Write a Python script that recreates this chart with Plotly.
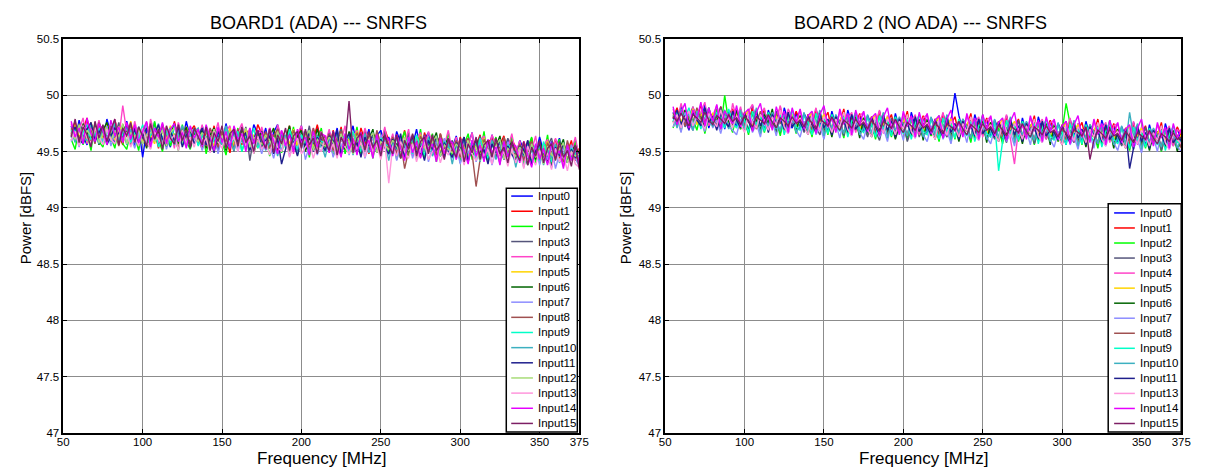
import plotly.graph_objects as go

# ---------------------------------------------------------------------------
# Frequency grid (MHz) shared by all inputs
# ---------------------------------------------------------------------------
freq_mhz = [55, 57.5, 60, 62.5, 65, 67.5, 70, 72.5, 75, 77.5, 80, 82.5, 85, 87.5, 90, 92.5,
            95, 97.5, 100, 102.5, 105, 107.5, 110, 112.5, 115, 117.5, 120, 122.5, 125, 127.5, 130, 132.5,
            135, 137.5, 140, 142.5, 145, 147.5, 150, 152.5, 155, 157.5, 160, 162.5, 165, 167.5, 170, 172.5,
            175, 177.5, 180, 182.5, 185, 187.5, 190, 192.5, 195, 197.5, 200, 202.5, 205, 207.5, 210, 212.5,
            215, 217.5, 220, 222.5, 225, 227.5, 230, 232.5, 235, 237.5, 240, 242.5, 245, 247.5, 250, 252.5,
            255, 257.5, 260, 262.5, 265, 267.5, 270, 272.5, 275, 277.5, 280, 282.5, 285, 287.5, 290, 292.5,
            295, 297.5, 300, 302.5, 305, 307.5, 310, 312.5, 315, 317.5, 320, 322.5, 325, 327.5, 330, 332.5,
            335, 337.5, 340, 342.5, 345, 347.5, 350, 352.5, 355, 357.5, 360, 362.5, 365, 367.5, 370, 372.5, 375]

x_ticks = [50, 100, 150, 200, 250, 300, 350, 375]
y_ticks = [47, 47.5, 48, 48.5, 49, 49.5, 50, 50.5]
y_tick_text = ["47", "47.5", "48", "48.5", "49", "49.5", "50", "50.5"]

# ---------------------------------------------------------------------------
# BOARD1 (ADA) -- SNRFS per input [dBFS]
# ---------------------------------------------------------------------------
b1_in0 = [49.73, 49.59, 49.78, 49.64, 49.56, 49.75, 49.62, 49.70, 49.57, 49.79, 49.66, 49.58, 49.74, 49.61, 49.77, 49.63,
          49.55, 49.72, 49.45, 49.69, 49.60, 49.76, 49.57, 49.71, 49.63, 49.54, 49.74, 49.66, 49.59, 49.77, 49.62, 49.69,
          49.56, 49.73, 49.61, 49.52, 49.70, 49.65, 49.57, 49.75, 49.60, 49.68, 49.53, 49.72, 49.63, 49.55, 49.74, 49.66,
          49.58, 49.71, 49.53, 49.67, 49.74, 49.56, 49.64, 49.50, 49.70, 49.61, 49.73, 49.55, 49.66, 49.59, 49.72, 49.62,
          49.52, 49.68, 49.57, 49.71, 49.49, 49.65, 49.60, 49.73, 49.54, 49.67, 49.58, 49.70, 49.51, 49.64, 49.69, 49.56,
          49.63, 49.50, 49.68, 49.58, 49.47, 49.66, 49.55, 49.70, 49.52, 49.61, 49.67, 49.49, 49.64, 49.57, 49.45, 49.62,
          49.53, 49.64, 49.47, 49.60, 49.56, 49.67, 49.44, 49.58, 49.62, 49.49, 49.65, 49.51, 49.59, 49.43, 49.61, 49.55,
          49.46, 49.60, 49.52, 49.41, 49.58, 49.48, 49.63, 49.50, 49.44, 49.59, 49.53, 49.62, 49.42, 49.56, 49.49, 49.60, 49.45]
b1_in1 = [49.66, 49.77, 49.60, 49.71, 49.80, 49.57, 49.68, 49.75, 49.62, 49.73, 49.59, 49.78, 49.65, 49.56, 49.74, 49.69,
          49.72, 49.55, 49.67, 49.76, 49.60, 49.70, 49.53, 49.74, 49.64, 49.58, 49.77, 49.61, 49.71, 49.55, 49.68, 49.73,
          49.63, 49.52, 49.69, 49.58, 49.73, 49.54, 49.67, 49.62, 49.49, 49.71, 49.60, 49.56, 49.70, 49.63, 49.58, 49.74,
          49.66, 49.54, 49.71, 49.59, 49.50, 49.68, 49.62, 49.73, 49.55, 49.65, 49.70, 49.52, 49.67, 49.60, 49.74, 49.57,
          49.64, 49.53, 49.69, 49.56, 49.72, 49.50, 49.62, 49.67, 49.55, 49.71, 49.59, 49.48, 49.66, 49.61, 49.54, 49.70,
          49.60, 49.48, 49.65, 49.54, 49.69, 49.51, 49.63, 49.57, 49.45, 49.67, 49.56, 49.62, 49.50, 49.66, 49.53, 49.59,
          49.57, 49.46, 49.63, 49.52, 49.42, 49.60, 49.55, 49.65, 49.48, 49.58, 49.62, 49.45, 49.56, 49.64, 49.50, 49.61,
          49.54, 49.43, 49.59, 49.50, 49.62, 49.46, 49.55, 49.40, 49.58, 49.52, 49.61, 49.44, 49.57, 49.49, 49.60, 49.42, 49.53]
b1_in2 = [49.61, 49.52, 49.72, 49.56, 49.67, 49.51, 49.76, 49.59, 49.54, 49.70, 49.63, 49.53, 49.74, 49.57, 49.52, 49.69,
          49.64, 49.51, 49.73, 49.58, 49.53, 49.77, 49.61, 49.50, 49.70, 49.55, 49.66, 49.51, 49.74, 49.59, 49.52, 49.69,
          49.57, 49.72, 49.48, 49.64, 49.53, 49.71, 49.59, 49.47, 49.68, 49.55, 49.71, 49.50, 49.62, 49.69, 49.48, 49.66,
          49.52, 49.67, 49.46, 49.60, 49.70, 49.49, 49.63, 49.55, 49.72, 49.47, 49.61, 49.68, 49.45, 49.64, 49.56, 49.71,
          49.50, 49.65, 49.46, 49.59, 49.70, 49.48, 49.62, 49.55, 49.72, 49.47, 49.60, 49.67, 49.44, 49.63, 49.53, 49.69,
          49.48, 49.64, 49.43, 49.58, 49.68, 49.46, 49.61, 49.52, 49.70, 49.44, 49.57, 49.66, 49.41, 49.62, 49.50, 49.67,
          49.45, 49.61, 49.40, 49.56, 49.66, 49.43, 49.59, 49.49, 49.68, 49.42, 49.55, 49.63, 49.39, 49.60, 49.47, 49.64,
          49.42, 49.58, 49.38, 49.53, 49.63, 49.40, 49.56, 49.46, 49.65, 49.39, 49.52, 49.61, 49.37, 49.57, 49.44, 49.60, 49.41]
b1_in3 = [49.70, 49.64, 49.75, 49.58, 49.71, 49.67, 49.60, 49.77, 49.65, 49.59, 49.73, 49.62, 49.76, 49.61, 49.68, 49.56,
          49.69, 49.63, 49.57, 49.72, 49.60, 49.66, 49.55, 49.71, 49.61, 49.67, 49.56, 49.74, 49.59, 49.65, 49.53, 49.70,
          49.58, 49.66, 49.54, 49.70, 49.61, 49.51, 49.68, 49.57, 49.64, 49.50, 49.67, 49.59, 49.72, 49.42, 49.63, 49.56,
          49.69, 49.58, 49.64, 49.52, 49.71, 49.60, 49.55, 49.67, 49.62, 49.50, 49.68, 49.57, 49.73, 49.54, 49.65, 49.59,
          49.63, 49.51, 49.67, 49.58, 49.70, 49.54, 49.61, 49.49, 49.66, 49.57, 49.69, 49.52, 49.64, 49.60, 49.55, 49.68,
          49.56, 49.64, 49.49, 49.62, 49.53, 49.67, 49.47, 49.60, 49.55, 49.65, 49.50, 49.63, 49.58, 49.46, 49.61, 49.54,
          49.60, 49.48, 49.57, 49.63, 49.45, 49.59, 49.52, 49.64, 49.47, 49.56, 49.61, 49.44, 49.58, 49.50, 49.62, 49.53,
          49.48, 49.57, 49.43, 49.60, 49.51, 49.46, 49.59, 49.41, 49.55, 49.62, 49.47, 49.53, 49.58, 49.42, 49.56, 49.50, 49.45]
b1_in4 = [49.75, 49.61, 49.69, 49.80, 49.57, 49.72, 49.64, 49.78, 49.59, 49.70, 49.66, 49.79, 49.62, 49.91, 49.67, 49.58,
          49.77, 49.63, 49.71, 49.54, 49.79, 49.65, 49.58, 49.75, 49.61, 49.69, 49.53, 49.76, 49.64, 49.72, 49.56, 49.70,
          49.60, 49.74, 49.53, 49.69, 49.63, 49.76, 49.56, 49.68, 49.73, 49.52, 49.67, 49.75, 49.59, 49.71, 49.62, 49.54,
          49.72, 49.59, 49.67, 49.50, 49.74, 49.63, 49.56, 49.70, 49.48, 49.66, 49.73, 49.55, 49.62, 49.71, 49.53, 49.68,
          49.57, 49.70, 49.51, 49.66, 49.59, 49.73, 49.49, 49.64, 49.69, 49.54, 49.71, 49.60, 49.47, 49.67, 49.56, 49.72,
          49.53, 49.66, 49.48, 49.63, 49.57, 49.70, 49.46, 49.61, 49.67, 49.51, 49.68, 49.58, 49.44, 49.64, 49.55, 49.69,
          49.50, 49.63, 49.45, 49.60, 49.54, 49.67, 49.43, 49.58, 49.64, 49.48, 49.65, 49.55, 49.41, 49.61, 49.52, 49.66,
          49.47, 49.60, 49.42, 49.57, 49.51, 49.64, 49.40, 49.55, 49.61, 49.45, 49.62, 49.52, 49.38, 49.58, 49.49, 49.63, 49.44]
b1_in5 = [49.68, 49.74, 49.63, 49.70, 49.59, 49.76, 49.66, 49.71, 49.62, 49.75, 49.67, 49.60, 49.72, 49.69, 49.64, 49.77,
          49.63, 49.71, 49.58, 49.74, 49.65, 49.57, 49.72, 49.67, 49.60, 49.73, 49.62, 49.69, 49.56, 49.72, 49.64, 49.61,
          49.67, 49.57, 49.71, 49.62, 49.55, 49.69, 49.64, 49.58, 49.71, 49.54, 49.66, 49.61, 49.70, 49.57, 49.65, 49.53,
          49.64, 49.56, 49.69, 49.60, 49.53, 49.67, 49.62, 49.57, 49.70, 49.55, 49.65, 49.59, 49.68, 49.54, 49.63, 49.58,
          49.62, 49.54, 49.67, 49.58, 49.51, 49.65, 49.60, 49.55, 49.68, 49.53, 49.63, 49.57, 49.66, 49.52, 49.61, 49.56,
          49.59, 49.51, 49.64, 49.55, 49.48, 49.62, 49.57, 49.52, 49.65, 49.50, 49.60, 49.54, 49.63, 49.49, 49.58, 49.53,
          49.56, 49.48, 49.61, 49.52, 49.45, 49.59, 49.54, 49.49, 49.62, 49.47, 49.57, 49.51, 49.60, 49.46, 49.55, 49.50,
          49.53, 49.45, 49.58, 49.49, 49.42, 49.56, 49.51, 49.46, 49.59, 49.44, 49.54, 49.48, 49.57, 49.43, 49.52, 49.47, 49.50]
b1_in6 = [49.64, 49.71, 49.58, 49.75, 49.67, 49.61, 49.73, 49.56, 49.69, 49.76, 49.62, 49.68, 49.59, 49.74, 49.66, 49.60,
          49.71, 49.58, 49.66, 49.53, 49.73, 49.62, 49.68, 49.56, 49.70, 49.64, 49.75, 49.57, 49.63, 49.72, 49.54, 49.67,
          49.62, 49.69, 49.53, 49.65, 49.71, 49.57, 49.63, 49.51, 49.67, 49.60, 49.55, 49.70, 49.58, 49.64, 49.49, 49.61,
          49.68, 49.55, 49.63, 49.71, 49.52, 49.66, 49.59, 49.73, 49.54, 49.64, 49.69, 49.50, 49.62, 49.57, 49.70, 49.56,
          49.55, 49.65, 49.59, 49.47, 49.63, 49.52, 49.68, 49.58, 49.49, 49.66, 49.54, 49.61, 49.70, 49.50, 49.60, 49.64,
          49.52, 49.62, 49.56, 49.44, 49.60, 49.49, 49.65, 49.55, 49.46, 49.63, 49.51, 49.58, 49.67, 49.47, 49.57, 49.61,
          49.49, 49.59, 49.53, 49.41, 49.57, 49.46, 49.62, 49.52, 49.43, 49.60, 49.48, 49.55, 49.64, 49.44, 49.54, 49.58,
          49.46, 49.56, 49.50, 49.38, 49.54, 49.43, 49.59, 49.49, 49.40, 49.57, 49.45, 49.52, 49.61, 49.41, 49.51, 49.55, 49.47]
b1_in7 = [49.59, 49.67, 49.54, 49.72, 49.63, 49.56, 49.70, 49.65, 49.58, 49.73, 49.55, 49.66, 49.61, 49.71, 49.57, 49.64,
          49.53, 49.68, 49.61, 49.75, 49.56, 49.64, 49.59, 49.71, 49.52, 49.65, 49.58, 49.69, 49.63, 49.54, 49.72, 49.60,
          49.66, 49.51, 49.62, 49.56, 49.70, 49.48, 49.64, 49.59, 49.53, 49.67, 49.50, 49.63, 49.57, 49.65, 49.52, 49.60,
          49.48, 49.62, 49.56, 49.44, 49.59, 49.51, 49.64, 49.46, 49.57, 49.53, 49.65, 49.43, 49.55, 49.61, 49.47, 49.58,
          49.50, 49.63, 49.45, 49.58, 49.54, 49.66, 49.47, 49.60, 49.52, 49.64, 49.44, 49.57, 49.62, 49.49, 49.65, 49.53,
          49.47, 49.60, 49.42, 49.55, 49.51, 49.63, 49.44, 49.57, 49.49, 49.61, 49.41, 49.54, 49.59, 49.46, 49.62, 49.50,
          49.44, 49.57, 49.39, 49.52, 49.48, 49.60, 49.41, 49.54, 49.46, 49.58, 49.38, 49.51, 49.56, 49.43, 49.59, 49.47,
          49.41, 49.54, 49.36, 49.49, 49.45, 49.57, 49.38, 49.51, 49.43, 49.55, 49.35, 49.48, 49.53, 49.40, 49.56, 49.44, 49.37]
b1_in8 = [49.71, 49.65, 49.59, 49.74, 49.62, 49.69, 49.57, 49.76, 49.64, 49.60, 49.72, 49.67, 49.55, 49.70, 49.63, 49.73,
          49.66, 49.59, 49.72, 49.63, 49.55, 49.70, 49.61, 49.74, 49.58, 49.67, 49.62, 49.53, 49.71, 49.64, 49.57, 49.69,
          49.60, 49.66, 49.55, 49.71, 49.62, 49.54, 49.68, 49.59, 49.65, 49.52, 49.70, 49.61, 49.56, 49.67, 49.58, 49.63,
          49.57, 49.68, 49.53, 49.64, 49.70, 49.56, 49.62, 49.51, 49.69, 49.60, 49.55, 49.66, 49.52, 49.71, 49.58, 49.63,
          49.55, 49.66, 49.51, 49.62, 49.68, 49.54, 49.60, 49.49, 49.67, 49.58, 49.53, 49.64, 49.50, 49.69, 49.56, 49.61,
          49.52, 49.63, 49.48, 49.59, 49.35, 49.51, 49.57, 49.46, 49.64, 49.55, 49.50, 49.61, 49.47, 49.66, 49.53, 49.58,
          49.49, 49.60, 49.45, 49.56, 49.62, 49.48, 49.19, 49.43, 49.61, 49.52, 49.47, 49.58, 49.44, 49.63, 49.50, 49.55,
          49.46, 49.57, 49.42, 49.53, 49.59, 49.45, 49.51, 49.40, 49.58, 49.49, 49.44, 49.55, 49.41, 49.60, 49.47, 49.52, 49.43]
b1_in9 = [49.62, 49.70, 49.56, 49.67, 49.74, 49.60, 49.65, 49.71, 49.57, 49.68, 49.63, 49.75, 49.59, 49.66, 49.72, 49.58,
          49.67, 49.61, 49.74, 49.56, 49.65, 49.71, 49.54, 49.63, 49.69, 49.58, 49.73, 49.62, 49.56, 49.68, 49.64, 49.71,
          49.55, 49.64, 49.70, 49.52, 49.61, 49.67, 49.57, 49.72, 49.54, 49.62, 49.68, 49.50, 49.64, 49.58, 49.71, 49.53,
          49.61, 49.56, 49.68, 49.50, 49.63, 49.66, 49.53, 49.70, 49.58, 49.52, 49.65, 49.57, 49.69, 49.51, 49.64, 49.59,
          49.58, 49.53, 49.66, 49.48, 49.61, 49.64, 49.51, 49.68, 49.56, 49.50, 49.63, 49.55, 49.67, 49.49, 49.62, 49.57,
          49.55, 49.50, 49.63, 49.45, 49.58, 49.61, 49.48, 49.65, 49.53, 49.47, 49.60, 49.52, 49.64, 49.46, 49.59, 49.54,
          49.52, 49.47, 49.60, 49.42, 49.55, 49.58, 49.45, 49.62, 49.50, 49.44, 49.57, 49.49, 49.61, 49.43, 49.56, 49.51,
          49.49, 49.44, 49.57, 49.39, 49.52, 49.55, 49.42, 49.59, 49.47, 49.41, 49.54, 49.46, 49.58, 49.40, 49.53, 49.48, 49.45]
b1_in10 = [49.69, 49.58, 49.73, 49.63, 49.60, 49.75, 49.66, 49.57, 49.71, 49.64, 49.59, 49.74, 49.62, 49.68, 49.56, 49.70,
           49.59, 49.72, 49.64, 49.57, 49.70, 49.61, 49.75, 49.55, 49.66, 49.71, 49.56, 49.64, 49.73, 49.58, 49.62, 49.68,
           49.71, 49.58, 49.64, 49.53, 49.69, 49.61, 49.56, 49.73, 49.62, 49.51, 49.66, 49.59, 49.54, 49.70, 49.60, 49.56,
           49.64, 49.51, 49.58, 49.62, 49.46, 49.60, 49.65, 49.53, 49.59, 49.48, 49.62, 49.56, 49.51, 49.63, 49.49, 49.57,
           49.45, 49.62, 49.55, 49.67, 49.50, 49.58, 49.64, 49.47, 49.61, 49.53, 49.66, 49.49, 49.57, 49.63, 49.52, 49.60,
           49.42, 49.59, 49.52, 49.64, 49.47, 49.55, 49.61, 49.44, 49.58, 49.50, 49.63, 49.46, 49.54, 49.60, 49.49, 49.57,
           49.39, 49.56, 49.49, 49.61, 49.44, 49.52, 49.58, 49.41, 49.55, 49.47, 49.60, 49.43, 49.51, 49.57, 49.46, 49.54,
           49.36, 49.53, 49.46, 49.58, 49.41, 49.49, 49.55, 49.38, 49.52, 49.44, 49.57, 49.40, 49.48, 49.54, 49.43, 49.51, 49.39]
b1_in11 = [49.65, 49.72, 49.61, 49.57, 49.70, 49.76, 49.59, 49.67, 49.73, 49.56, 49.64, 49.71, 49.66, 49.60, 49.75, 49.62,
           49.70, 49.56, 49.63, 49.71, 49.59, 49.67, 49.74, 49.61, 49.55, 49.68, 49.60, 49.72, 49.54, 49.65, 49.69, 49.57,
           49.64, 49.71, 49.56, 49.62, 49.49, 49.68, 49.60, 49.65, 49.53, 49.70, 49.58, 49.63, 49.67, 49.51, 49.62, 49.69,
           49.53, 49.60, 49.64, 49.48, 49.62, 49.39, 49.51, 49.65, 49.58, 49.46, 49.61, 49.55, 49.68, 49.50, 49.63, 49.57,
           49.51, 49.64, 49.56, 49.69, 49.47, 49.60, 49.66, 49.52, 49.58, 49.45, 49.63, 49.55, 49.67, 49.49, 49.61, 49.54,
           49.48, 49.61, 49.53, 49.66, 49.44, 49.57, 49.63, 49.49, 49.55, 49.42, 49.60, 49.52, 49.64, 49.46, 49.58, 49.51,
           49.45, 49.58, 49.50, 49.63, 49.41, 49.54, 49.60, 49.46, 49.52, 49.39, 49.57, 49.49, 49.61, 49.43, 49.55, 49.48,
           49.42, 49.55, 49.47, 49.60, 49.38, 49.51, 49.57, 49.43, 49.49, 49.36, 49.54, 49.46, 49.58, 49.40, 49.52, 49.45, 49.50]
b1_in12 = [49.67, 49.61, 49.74, 49.59, 49.69, 49.64, 49.72, 49.58, 49.66, 49.71, 49.60, 49.68, 49.63, 49.75, 49.57, 49.67,
           49.62, 49.70, 49.57, 49.65, 49.72, 49.59, 49.64, 49.69, 49.55, 49.67, 49.71, 49.60, 49.65, 49.56, 49.70, 49.63,
           49.59, 49.67, 49.62, 49.55, 49.70, 49.58, 49.64, 49.53, 49.68, 49.61, 49.56, 49.65, 49.71, 49.54, 49.63, 49.59,
           49.57, 49.65, 49.60, 49.52, 49.68, 49.56, 49.62, 49.50, 49.66, 49.59, 49.54, 49.63, 49.69, 49.51, 49.61, 49.57,
           49.55, 49.63, 49.58, 49.50, 49.66, 49.54, 49.60, 49.48, 49.64, 49.57, 49.52, 49.61, 49.67, 49.49, 49.59, 49.55,
           49.52, 49.60, 49.55, 49.47, 49.63, 49.51, 49.57, 49.45, 49.61, 49.54, 49.49, 49.58, 49.64, 49.46, 49.56, 49.52,
           49.49, 49.57, 49.52, 49.44, 49.60, 49.48, 49.54, 49.42, 49.58, 49.51, 49.46, 49.55, 49.61, 49.43, 49.53, 49.49,
           49.46, 49.54, 49.49, 49.41, 49.57, 49.45, 49.51, 49.39, 49.55, 49.48, 49.43, 49.52, 49.58, 49.40, 49.50, 49.46, 49.48]
b1_in13 = [49.60, 49.68, 49.55, 49.73, 49.62, 49.58, 49.71, 49.64, 49.56, 49.70, 49.61, 49.57, 49.72, 49.59, 49.67, 49.54,
           49.64, 49.55, 49.71, 49.59, 49.52, 49.68, 49.61, 49.56, 49.73, 49.60, 49.65, 49.51, 49.69, 49.58, 49.63, 49.54,
           49.67, 49.56, 49.62, 49.49, 49.68, 49.59, 49.53, 49.65, 49.57, 49.63, 49.50, 49.66, 49.55, 49.61, 49.48, 49.64,
           49.52, 49.59, 49.47, 49.63, 49.54, 49.50, 49.61, 49.45, 49.57, 49.62, 49.48, 49.54, 49.59, 49.44, 49.56, 49.50,
           49.62, 49.49, 49.57, 49.44, 49.63, 49.54, 49.48, 49.60, 49.52, 49.58, 49.45, 49.61, 49.50, 49.56, 49.43, 49.59,
           49.22, 49.55, 49.46, 49.59, 49.50, 49.44, 49.57, 49.41, 49.53, 49.58, 49.43, 49.50, 49.55, 49.40, 49.52, 49.47,
           49.56, 49.43, 49.51, 49.38, 49.57, 49.48, 49.42, 49.54, 49.46, 49.52, 49.39, 49.55, 49.44, 49.50, 49.37, 49.53,
           49.40, 49.52, 49.35, 49.55, 49.45, 49.38, 49.51, 49.43, 49.49, 49.34, 49.53, 49.41, 49.47, 49.33, 49.50, 49.39, 49.36]
b1_in14 = [49.77, 49.63, 49.71, 49.57, 49.80, 49.66, 49.59, 49.75, 49.69, 49.56, 49.78, 49.64, 49.72, 49.58, 49.76, 49.61,
           49.74, 49.58, 49.68, 49.77, 49.54, 49.71, 49.63, 49.76, 49.57, 49.70, 49.75, 49.59, 49.67, 49.53, 49.73, 49.62,
           49.70, 49.55, 49.74, 49.62, 49.51, 49.72, 49.58, 49.68, 49.53, 49.73, 49.61, 49.66, 49.50, 49.71, 49.57, 49.69,
           49.67, 49.52, 49.71, 49.59, 49.48, 49.69, 49.55, 49.65, 49.50, 49.70, 49.58, 49.63, 49.47, 49.68, 49.54, 49.66,
           49.64, 49.49, 49.68, 49.56, 49.45, 49.66, 49.52, 49.62, 49.47, 49.67, 49.55, 49.60, 49.44, 49.65, 49.51, 49.63,
           49.61, 49.46, 49.65, 49.53, 49.42, 49.63, 49.49, 49.59, 49.44, 49.64, 49.52, 49.57, 49.41, 49.62, 49.48, 49.60,
           49.58, 49.43, 49.62, 49.50, 49.39, 49.60, 49.46, 49.56, 49.41, 49.61, 49.49, 49.54, 49.38, 49.59, 49.45, 49.57,
           49.55, 49.40, 49.59, 49.47, 49.36, 49.57, 49.43, 49.53, 49.38, 49.58, 49.46, 49.51, 49.35, 49.56, 49.42, 49.54, 49.40]
b1_in15 = [49.63, 49.79, 49.58, 49.72, 49.65, 49.54, 49.77, 49.62, 49.74, 49.59, 49.69, 49.79, 49.56, 49.71, 49.64, 49.76,
           49.58, 49.72, 49.64, 49.55, 49.75, 49.61, 49.70, 49.52, 49.73, 49.62, 49.57, 49.74, 49.60, 49.69, 49.54, 49.71,
           49.63, 49.56, 49.72, 49.51, 49.67, 49.59, 49.73, 49.53, 49.66, 49.70, 49.55, 49.72, 49.58, 49.64, 49.50, 49.69,
           49.60, 49.53, 49.70, 49.49, 49.65, 49.57, 49.71, 49.51, 49.64, 49.68, 49.53, 49.70, 49.56, 49.62, 49.48, 49.67,
           49.58, 49.51, 49.68, 49.47, 49.63, 49.55, 49.95, 49.49, 49.62, 49.66, 49.51, 49.68, 49.54, 49.60, 49.46, 49.65,
           49.55, 49.48, 49.65, 49.44, 49.60, 49.52, 49.66, 49.46, 49.59, 49.63, 49.48, 49.65, 49.51, 49.57, 49.43, 49.62,
           49.52, 49.45, 49.62, 49.41, 49.57, 49.49, 49.63, 49.43, 49.56, 49.60, 49.45, 49.62, 49.48, 49.54, 49.40, 49.59,
           49.49, 49.42, 49.59, 49.38, 49.54, 49.46, 49.60, 49.40, 49.53, 49.57, 49.42, 49.59, 49.45, 49.51, 49.37, 49.56, 49.34]

# ---------------------------------------------------------------------------
# BOARD 2 (NO ADA) -- SNRFS per input [dBFS]  (Input12 not present)
# ---------------------------------------------------------------------------
b2_in0 = [49.85, 49.73, 49.91, 49.78, 49.69, 49.89, 49.80, 49.74, 49.92, 49.71, 49.84, 49.77, 49.90, 49.70, 49.86, 49.79,
          49.72, 49.88, 49.76, 49.67, 49.91, 49.75, 49.83, 49.69, 49.87, 49.74, 49.80, 49.66, 49.89, 49.77, 49.71, 49.85,
          49.70, 49.84, 49.76, 49.65, 49.88, 49.73, 49.81, 49.67, 49.86, 49.72, 49.78, 49.64, 49.87, 49.75, 49.69, 49.83,
          49.68, 49.82, 49.74, 49.63, 49.86, 49.71, 49.79, 49.65, 49.84, 49.70, 49.76, 49.62, 49.85, 49.73, 49.67, 49.81,
          49.66, 49.80, 49.72, 49.61, 49.84, 49.69, 49.77, 50.02, 49.82, 49.68, 49.74, 49.60, 49.83, 49.71, 49.65, 49.79,
          49.64, 49.78, 49.70, 49.59, 49.82, 49.67, 49.75, 49.61, 49.80, 49.66, 49.72, 49.58, 49.81, 49.69, 49.63, 49.77,
          49.61, 49.75, 49.67, 49.56, 49.79, 49.64, 49.72, 49.58, 49.77, 49.63, 49.69, 49.55, 49.78, 49.66, 49.60, 49.74,
          49.58, 49.72, 49.64, 49.53, 49.76, 49.61, 49.69, 49.55, 49.74, 49.60, 49.66, 49.52, 49.75, 49.63, 49.57, 49.71, 49.59]
b2_in1 = [49.80, 49.89, 49.75, 49.84, 49.71, 49.87, 49.78, 49.92, 49.74, 49.85, 49.81, 49.72, 49.90, 49.76, 49.83, 49.88,
          49.79, 49.70, 49.85, 49.76, 49.89, 49.73, 49.80, 49.87, 49.71, 49.84, 49.77, 49.90, 49.69, 49.82, 49.75, 49.86,
          49.77, 49.68, 49.83, 49.74, 49.87, 49.71, 49.78, 49.85, 49.69, 49.82, 49.75, 49.88, 49.67, 49.80, 49.73, 49.84,
          49.75, 49.66, 49.81, 49.72, 49.85, 49.69, 49.76, 49.83, 49.67, 49.80, 49.73, 49.86, 49.65, 49.78, 49.71, 49.82,
          49.73, 49.64, 49.79, 49.70, 49.83, 49.67, 49.74, 49.81, 49.65, 49.78, 49.71, 49.84, 49.63, 49.76, 49.69, 49.80,
          49.71, 49.62, 49.77, 49.68, 49.81, 49.65, 49.72, 49.79, 49.63, 49.76, 49.69, 49.82, 49.61, 49.74, 49.67, 49.78,
          49.68, 49.59, 49.74, 49.65, 49.78, 49.62, 49.69, 49.76, 49.60, 49.73, 49.66, 49.79, 49.58, 49.71, 49.64, 49.75,
          49.65, 49.56, 49.71, 49.62, 49.75, 49.59, 49.66, 49.73, 49.57, 49.70, 49.63, 49.76, 49.55, 49.68, 49.61, 49.72, 49.64]
b2_in2 = [49.71, 49.83, 49.68, 49.87, 49.74, 49.79, 49.69, 49.85, 49.66, 49.82, 49.72, 49.88, 49.70, 50.00, 49.76, 49.67,
          49.84, 49.70, 49.79, 49.65, 49.86, 49.73, 49.81, 49.67, 49.85, 49.71, 49.78, 49.64, 49.83, 49.69, 49.80, 49.66,
          49.82, 49.68, 49.77, 49.63, 49.84, 49.71, 49.79, 49.65, 49.83, 49.69, 49.76, 49.62, 49.81, 49.67, 49.78, 49.64,
          49.80, 49.66, 49.75, 49.61, 49.82, 49.69, 49.77, 49.63, 49.81, 49.67, 49.74, 49.60, 49.79, 49.65, 49.76, 49.62,
          49.78, 49.64, 49.73, 49.59, 49.80, 49.67, 49.75, 49.61, 49.79, 49.65, 49.72, 49.58, 49.77, 49.63, 49.74, 49.60,
          49.76, 49.62, 49.71, 49.57, 49.78, 49.65, 49.73, 49.59, 49.77, 49.63, 49.70, 49.56, 49.75, 49.61, 49.72, 49.58,
          49.73, 49.59, 49.68, 49.93, 49.75, 49.62, 49.70, 49.56, 49.74, 49.60, 49.67, 49.53, 49.72, 49.58, 49.69, 49.55,
          49.70, 49.56, 49.65, 49.51, 49.72, 49.59, 49.67, 49.53, 49.71, 49.57, 49.64, 49.50, 49.69, 49.55, 49.66, 49.52, 49.61]
b2_in3 = [49.83, 49.77, 49.88, 49.72, 49.81, 49.90, 49.75, 49.84, 49.70, 49.86, 49.79, 49.73, 49.89, 49.78, 49.71, 49.85,
          49.76, 49.83, 49.69, 49.87, 49.74, 49.80, 49.68, 49.85, 49.78, 49.72, 49.86, 49.75, 49.82, 49.67, 49.81, 49.73,
          49.80, 49.67, 49.76, 49.84, 49.71, 49.65, 49.82, 49.74, 49.69, 49.81, 49.75, 49.64, 49.79, 49.72, 49.85, 49.68,
          49.73, 49.63, 49.77, 49.69, 49.60, 49.75, 49.67, 49.80, 49.62, 49.71, 49.76, 49.59, 49.70, 49.78, 49.63, 49.72,
          49.79, 49.66, 49.74, 49.82, 49.69, 49.63, 49.80, 49.72, 49.67, 49.79, 49.73, 49.62, 49.77, 49.70, 49.83, 49.66,
          49.71, 49.61, 49.75, 49.67, 49.58, 49.73, 49.65, 49.78, 49.60, 49.69, 49.74, 49.57, 49.68, 49.76, 49.61, 49.70,
          49.74, 49.61, 49.69, 49.77, 49.64, 49.58, 49.75, 49.67, 49.62, 49.74, 49.68, 49.57, 49.72, 49.65, 49.78, 49.61,
          49.65, 49.55, 49.69, 49.61, 49.52, 49.67, 49.59, 49.72, 49.54, 49.63, 49.68, 49.51, 49.62, 49.70, 49.55, 49.64, 49.58]
b2_in4 = [49.88, 49.75, 49.93, 49.80, 49.70, 49.90, 49.77, 49.85, 49.94, 49.73, 49.82, 49.91, 49.76, 49.87, 49.71, 49.93,
          49.79, 49.90, 49.71, 49.86, 49.92, 49.74, 49.83, 49.89, 49.70, 49.85, 49.77, 49.91, 49.73, 49.88, 49.80, 49.75,
          49.87, 49.71, 49.82, 49.77, 49.89, 49.68, 49.84, 49.76, 49.81, 49.70, 49.86, 49.74, 49.79, 49.85, 49.67, 49.82,
          49.85, 49.69, 49.80, 49.75, 49.87, 49.66, 49.82, 49.74, 49.79, 49.68, 49.84, 49.72, 49.77, 49.83, 49.65, 49.80,
          49.83, 49.67, 49.78, 49.73, 49.85, 49.64, 49.80, 49.72, 49.77, 49.66, 49.82, 49.70, 49.75, 49.81, 49.63, 49.78,
          49.81, 49.65, 49.76, 49.71, 49.83, 49.62, 49.39, 49.70, 49.75, 49.64, 49.80, 49.68, 49.73, 49.79, 49.61, 49.76,
          49.78, 49.62, 49.73, 49.68, 49.80, 49.59, 49.75, 49.67, 49.72, 49.61, 49.77, 49.65, 49.70, 49.76, 49.58, 49.73,
          49.75, 49.59, 49.70, 49.65, 49.77, 49.56, 49.72, 49.64, 49.69, 49.58, 49.74, 49.62, 49.67, 49.73, 49.55, 49.70, 49.66]
b2_in5 = [49.81, 49.86, 49.76, 49.83, 49.79, 49.88, 49.74, 49.82, 49.87, 49.77, 49.84, 49.80, 49.75, 49.85, 49.81, 49.78,
          49.84, 49.75, 49.81, 49.87, 49.73, 49.79, 49.85, 49.76, 49.82, 49.71, 49.80, 49.86, 49.74, 49.78, 49.83, 49.72,
          49.82, 49.73, 49.79, 49.85, 49.71, 49.77, 49.83, 49.74, 49.80, 49.69, 49.78, 49.84, 49.72, 49.76, 49.81, 49.70,
          49.80, 49.71, 49.77, 49.83, 49.69, 49.75, 49.81, 49.72, 49.78, 49.67, 49.76, 49.82, 49.70, 49.74, 49.79, 49.68,
          49.78, 49.69, 49.75, 49.81, 49.67, 49.73, 49.79, 49.70, 49.76, 49.65, 49.74, 49.80, 49.68, 49.72, 49.77, 49.66,
          49.76, 49.67, 49.73, 49.79, 49.65, 49.71, 49.77, 49.68, 49.74, 49.63, 49.72, 49.78, 49.66, 49.70, 49.75, 49.64,
          49.73, 49.64, 49.70, 49.76, 49.62, 49.68, 49.74, 49.65, 49.71, 49.60, 49.69, 49.75, 49.63, 49.67, 49.72, 49.61,
          49.70, 49.61, 49.67, 49.73, 49.59, 49.65, 49.71, 49.62, 49.68, 49.57, 49.66, 49.72, 49.60, 49.64, 49.69, 49.58, 49.65]
b2_in6 = [49.76, 49.84, 49.71, 49.87, 49.78, 49.69, 49.85, 49.80, 49.73, 49.89, 49.75, 49.82, 49.70, 49.86, 49.77, 49.74,
          49.87, 49.72, 49.81, 49.68, 49.85, 49.77, 49.70, 49.83, 49.75, 49.88, 49.67, 49.80, 49.84, 49.71, 49.78, 49.69,
          49.82, 49.74, 49.65, 49.80, 49.71, 49.86, 49.68, 49.77, 49.63, 49.79, 49.72, 49.84, 49.66, 49.75, 49.81, 49.62,
          49.80, 49.72, 49.63, 49.78, 49.69, 49.84, 49.66, 49.75, 49.61, 49.77, 49.70, 49.82, 49.64, 49.73, 49.79, 49.60,
          49.78, 49.70, 49.61, 49.76, 49.67, 49.82, 49.64, 49.73, 49.59, 49.75, 49.68, 49.80, 49.62, 49.71, 49.77, 49.58,
          49.76, 49.68, 49.59, 49.74, 49.65, 49.80, 49.62, 49.71, 49.57, 49.73, 49.66, 49.78, 49.60, 49.69, 49.75, 49.56,
          49.73, 49.65, 49.56, 49.71, 49.62, 49.77, 49.59, 49.68, 49.54, 49.70, 49.63, 49.75, 49.57, 49.66, 49.72, 49.53,
          49.70, 49.62, 49.53, 49.68, 49.59, 49.74, 49.56, 49.65, 49.51, 49.67, 49.60, 49.72, 49.54, 49.63, 49.69, 49.50, 49.62]
b2_in7 = [49.72, 49.80, 49.67, 49.85, 49.74, 49.69, 49.82, 49.76, 49.68, 49.84, 49.71, 49.78, 49.66, 49.81, 49.73, 49.69,
          49.65, 49.79, 49.71, 49.84, 49.67, 49.75, 49.63, 49.81, 49.70, 49.77, 49.64, 49.82, 49.72, 49.66, 49.78, 49.69,
          49.63, 49.77, 49.69, 49.82, 49.65, 49.73, 49.61, 49.79, 49.68, 49.75, 49.62, 49.80, 49.70, 49.64, 49.76, 49.67,
          49.61, 49.75, 49.67, 49.80, 49.63, 49.71, 49.59, 49.77, 49.66, 49.73, 49.60, 49.78, 49.68, 49.62, 49.74, 49.65,
          49.59, 49.73, 49.65, 49.78, 49.61, 49.69, 49.57, 49.75, 49.64, 49.71, 49.58, 49.76, 49.66, 49.60, 49.72, 49.63,
          49.57, 49.71, 49.63, 49.76, 49.59, 49.67, 49.55, 49.73, 49.62, 49.69, 49.56, 49.74, 49.64, 49.58, 49.70, 49.61,
          49.54, 49.68, 49.60, 49.73, 49.56, 49.64, 49.52, 49.70, 49.59, 49.66, 49.53, 49.71, 49.61, 49.55, 49.67, 49.58,
          49.51, 49.65, 49.57, 49.70, 49.53, 49.61, 49.49, 49.67, 49.56, 49.63, 49.50, 49.68, 49.58, 49.52, 49.64, 49.55, 49.50]
b2_in8 = [49.84, 49.78, 49.87, 49.73, 49.82, 49.76, 49.89, 49.79, 49.75, 49.86, 49.80, 49.71, 49.85, 49.78, 49.83, 49.74,
          49.80, 49.85, 49.73, 49.82, 49.77, 49.70, 49.86, 49.75, 49.81, 49.72, 49.84, 49.76, 49.69, 49.83, 49.78, 49.74,
          49.79, 49.72, 49.83, 49.69, 49.77, 49.81, 49.67, 49.75, 49.80, 49.71, 49.78, 49.66, 49.82, 49.73, 49.70, 49.77,
          49.77, 49.70, 49.81, 49.67, 49.75, 49.79, 49.65, 49.73, 49.78, 49.69, 49.76, 49.64, 49.80, 49.71, 49.68, 49.75,
          49.75, 49.68, 49.79, 49.65, 49.73, 49.77, 49.63, 49.71, 49.76, 49.67, 49.74, 49.62, 49.78, 49.69, 49.66, 49.73,
          49.73, 49.66, 49.77, 49.63, 49.71, 49.75, 49.61, 49.69, 49.74, 49.65, 49.72, 49.60, 49.76, 49.67, 49.64, 49.71,
          49.70, 49.63, 49.74, 49.60, 49.68, 49.72, 49.58, 49.66, 49.71, 49.62, 49.69, 49.57, 49.73, 49.64, 49.61, 49.68,
          49.67, 49.60, 49.71, 49.57, 49.65, 49.69, 49.55, 49.63, 49.68, 49.59, 49.66, 49.54, 49.70, 49.61, 49.58, 49.65, 49.53]
b2_in9 = [49.77, 49.86, 49.72, 49.81, 49.89, 49.74, 49.83, 49.70, 49.87, 49.78, 49.73, 49.85, 49.80, 49.71, 49.88, 49.76,
          49.71, 49.84, 49.78, 49.67, 49.86, 49.74, 49.81, 49.68, 49.85, 49.76, 49.70, 49.83, 49.65, 49.79, 49.87, 49.72,
          49.69, 49.82, 49.76, 49.65, 49.84, 49.72, 49.79, 49.66, 49.83, 49.74, 49.68, 49.81, 49.63, 49.77, 49.85, 49.70,
          49.67, 49.80, 49.74, 49.63, 49.82, 49.70, 49.77, 49.64, 49.81, 49.72, 49.66, 49.79, 49.61, 49.75, 49.83, 49.68,
          49.65, 49.78, 49.72, 49.61, 49.80, 49.68, 49.75, 49.62, 49.79, 49.70, 49.64, 49.77, 49.59, 49.73, 49.81, 49.66,
          49.63, 49.76, 49.33, 49.59, 49.78, 49.66, 49.73, 49.60, 49.77, 49.68, 49.62, 49.75, 49.57, 49.71, 49.79, 49.64,
          49.60, 49.73, 49.67, 49.56, 49.75, 49.63, 49.70, 49.57, 49.74, 49.65, 49.59, 49.72, 49.54, 49.68, 49.76, 49.61,
          49.57, 49.70, 49.64, 49.53, 49.72, 49.60, 49.67, 49.54, 49.71, 49.62, 49.56, 49.69, 49.51, 49.65, 49.73, 49.58, 49.60]
b2_in10 = [49.82, 49.71, 49.88, 49.77, 49.84, 49.69, 49.86, 49.75, 49.80, 49.89, 49.72, 49.83, 49.76, 49.87, 49.70, 49.81,
           49.75, 49.87, 49.70, 49.82, 49.77, 49.89, 49.66, 49.80, 49.73, 49.85, 49.78, 49.68, 49.84, 49.74, 49.81, 49.67,
           49.73, 49.85, 49.68, 49.80, 49.75, 49.87, 49.64, 49.78, 49.71, 49.83, 49.76, 49.66, 49.82, 49.72, 49.79, 49.65,
           49.71, 49.83, 49.66, 49.78, 49.73, 49.85, 49.62, 49.76, 49.69, 49.81, 49.74, 49.64, 49.80, 49.70, 49.77, 49.63,
           49.69, 49.81, 49.64, 49.76, 49.71, 49.83, 49.60, 49.74, 49.67, 49.79, 49.72, 49.62, 49.78, 49.68, 49.75, 49.61,
           49.67, 49.79, 49.62, 49.74, 49.69, 49.81, 49.58, 49.72, 49.65, 49.77, 49.70, 49.60, 49.76, 49.66, 49.73, 49.59,
           49.64, 49.76, 49.59, 49.71, 49.66, 49.78, 49.55, 49.69, 49.62, 49.74, 49.67, 49.57, 49.73, 49.63, 49.70, 49.56,
           49.61, 49.73, 49.56, 49.85, 49.63, 49.75, 49.52, 49.66, 49.59, 49.71, 49.64, 49.54, 49.70, 49.60, 49.67, 49.53, 49.62]
b2_in11 = [49.79, 49.87, 49.74, 49.82, 49.70, 49.85, 49.78, 49.73, 49.89, 49.76, 49.81, 49.69, 49.84, 49.77, 49.72, 49.86,
           49.78, 49.71, 49.84, 49.76, 49.69, 49.86, 49.73, 49.81, 49.67, 49.83, 49.75, 49.79, 49.70, 49.85, 49.72, 49.77,
           49.76, 49.69, 49.82, 49.74, 49.67, 49.84, 49.71, 49.79, 49.65, 49.81, 49.73, 49.77, 49.68, 49.83, 49.70, 49.75,
           49.74, 49.67, 49.80, 49.72, 49.65, 49.82, 49.69, 49.77, 49.63, 49.79, 49.71, 49.75, 49.66, 49.81, 49.68, 49.73,
           49.72, 49.65, 49.78, 49.70, 49.63, 49.80, 49.67, 49.75, 49.61, 49.77, 49.69, 49.73, 49.64, 49.79, 49.66, 49.71,
           49.70, 49.63, 49.76, 49.68, 49.61, 49.78, 49.65, 49.73, 49.59, 49.75, 49.67, 49.71, 49.62, 49.77, 49.64, 49.69,
           49.67, 49.60, 49.73, 49.65, 49.58, 49.75, 49.62, 49.70, 49.56, 49.72, 49.64, 49.68, 49.59, 49.74, 49.61, 49.66,
           49.64, 49.57, 49.70, 49.35, 49.55, 49.72, 49.59, 49.67, 49.53, 49.69, 49.61, 49.65, 49.56, 49.71, 49.58, 49.63, 49.60]
b2_in13 = [49.75, 49.83, 49.71, 49.80, 49.86, 49.73, 49.81, 49.77, 49.70, 49.84, 49.78, 49.72, 49.87, 49.75, 49.80, 49.71,
           49.82, 49.74, 49.67, 49.85, 49.76, 49.71, 49.83, 49.78, 49.69, 49.81, 49.74, 49.87, 49.72, 49.66, 49.80, 49.75,
           49.80, 49.72, 49.65, 49.83, 49.74, 49.69, 49.81, 49.76, 49.67, 49.79, 49.72, 49.85, 49.70, 49.64, 49.78, 49.73,
           49.78, 49.70, 49.63, 49.81, 49.72, 49.67, 49.79, 49.74, 49.65, 49.77, 49.70, 49.83, 49.68, 49.62, 49.76, 49.71,
           49.76, 49.68, 49.61, 49.79, 49.70, 49.65, 49.77, 49.72, 49.63, 49.75, 49.68, 49.81, 49.66, 49.60, 49.74, 49.69,
           49.74, 49.66, 49.59, 49.77, 49.68, 49.63, 49.75, 49.70, 49.61, 49.73, 49.66, 49.79, 49.64, 49.58, 49.72, 49.67,
           49.71, 49.63, 49.56, 49.74, 49.65, 49.60, 49.72, 49.67, 49.58, 49.70, 49.63, 49.76, 49.61, 49.55, 49.69, 49.64,
           49.68, 49.60, 49.53, 49.71, 49.62, 49.57, 49.69, 49.64, 49.55, 49.67, 49.60, 49.73, 49.58, 49.52, 49.66, 49.61, 49.57]
b2_in14 = [49.90, 49.74, 49.85, 49.93, 49.71, 49.87, 49.79, 49.94, 49.73, 49.89, 49.77, 49.92, 49.70, 49.86, 49.81, 49.75,
           49.91, 49.72, 49.84, 49.88, 49.68, 49.85, 49.93, 49.74, 49.82, 49.69, 49.90, 49.77, 49.86, 49.67, 49.89, 49.76,
           49.88, 49.70, 49.82, 49.86, 49.66, 49.83, 49.91, 49.72, 49.80, 49.67, 49.88, 49.75, 49.84, 49.65, 49.87, 49.74,
           49.86, 49.68, 49.80, 49.84, 49.64, 49.81, 49.89, 49.70, 49.78, 49.65, 49.86, 49.73, 49.82, 49.63, 49.85, 49.72,
           49.84, 49.66, 49.78, 49.82, 49.62, 49.79, 49.87, 49.68, 49.76, 49.63, 49.84, 49.71, 49.80, 49.61, 49.83, 49.70,
           49.82, 49.64, 49.76, 49.80, 49.60, 49.77, 49.85, 49.66, 49.74, 49.61, 49.82, 49.69, 49.78, 49.59, 49.81, 49.68,
           49.79, 49.61, 49.73, 49.77, 49.57, 49.74, 49.82, 49.63, 49.71, 49.58, 49.79, 49.66, 49.75, 49.56, 49.78, 49.65,
           49.76, 49.58, 49.70, 49.74, 49.54, 49.71, 49.79, 49.60, 49.68, 49.55, 49.76, 49.63, 49.72, 49.53, 49.75, 49.62, 49.70]
b2_in15 = [49.81, 49.77, 49.84, 49.79, 49.73, 49.83, 49.80, 49.76, 49.85, 49.78, 49.74, 49.82, 49.79, 49.75, 49.83, 49.77,
           49.80, 49.74, 49.82, 49.77, 49.72, 49.81, 49.78, 49.75, 49.83, 49.76, 49.71, 49.80, 49.77, 49.73, 49.81, 49.75,
           49.78, 49.72, 49.80, 49.75, 49.70, 49.79, 49.76, 49.73, 49.81, 49.74, 49.69, 49.78, 49.75, 49.71, 49.79, 49.73,
           49.76, 49.70, 49.78, 49.73, 49.68, 49.77, 49.74, 49.71, 49.79, 49.72, 49.67, 49.76, 49.73, 49.69, 49.77, 49.71,
           49.74, 49.68, 49.76, 49.71, 49.66, 49.75, 49.72, 49.69, 49.77, 49.70, 49.65, 49.74, 49.71, 49.67, 49.75, 49.69,
           49.72, 49.66, 49.74, 49.69, 49.64, 49.73, 49.70, 49.67, 49.75, 49.68, 49.63, 49.72, 49.69, 49.65, 49.73, 49.67,
           49.69, 49.63, 49.71, 49.66, 49.61, 49.70, 49.67, 49.64, 49.72, 49.43, 49.60, 49.69, 49.66, 49.62, 49.70, 49.64,
           49.66, 49.60, 49.68, 49.63, 49.58, 49.67, 49.64, 49.61, 49.69, 49.62, 49.57, 49.66, 49.63, 49.59, 49.67, 49.61, 49.63]

# Line colour for each input channel
input_colors = {
    "Input0": "#0000ff", "Input1": "#ff0000", "Input2": "#00ff00", "Input3": "#55557a",
    "Input4": "#ff44c8", "Input5": "#ffd400", "Input6": "#006400", "Input7": "#8c8cff",
    "Input8": "#a05050", "Input9": "#00ffc8", "Input10": "#3cb0c0", "Input11": "#1e1e8c",
    "Input12": "#a8dc78", "Input13": "#ff96dc", "Input14": "#e600ff", "Input15": "#7d1e64",
}

board1 = [("Input0", b1_in0), ("Input1", b1_in1), ("Input2", b1_in2), ("Input3", b1_in3),
          ("Input4", b1_in4), ("Input5", b1_in5), ("Input6", b1_in6), ("Input7", b1_in7),
          ("Input8", b1_in8), ("Input9", b1_in9), ("Input10", b1_in10), ("Input11", b1_in11),
          ("Input12", b1_in12), ("Input13", b1_in13), ("Input14", b1_in14), ("Input15", b1_in15)]
board2 = [("Input0", b2_in0), ("Input1", b2_in1), ("Input2", b2_in2), ("Input3", b2_in3),
          ("Input4", b2_in4), ("Input5", b2_in5), ("Input6", b2_in6), ("Input7", b2_in7),
          ("Input8", b2_in8), ("Input9", b2_in9), ("Input10", b2_in10), ("Input11", b2_in11),
          ("Input13", b2_in13), ("Input14", b2_in14), ("Input15", b2_in15)]

# Every channel must cover the full frequency grid
bad = [f"board1 {n}:{len(v)}" for n, v in board1 if len(v) != len(freq_mhz)]
bad += [f"board2 {n}:{len(v)}" for n, v in board2 if len(v) != len(freq_mhz)]
if bad:
    raise SystemExit("length mismatch: " + ", ".join(bad))

# ---------------------------------------------------------------------------
# Figure geometry (pixels)
# ---------------------------------------------------------------------------
W, H = 1208, 475
FONT = "Liberation Sans, Arial, Helvetica, sans-serif"


def fx(px):
    return px / W


def fy(py):
    return 1 - py / H


panels = [
    dict(x0=58, x1=581, title="BOARD1 (ADA) --- SNRFS", ylab_x=20, series=board1,
         leg=dict(x0=507, x1=579, y0=187, y1=437, first=195.0, step=15.55,
                  l0=512, l1=534, tx=537)),
    dict(x0=668, x1=1191, title="BOARD 2 (NO ADA) --- SNRFS", ylab_x=628, series=board2,
         leg=dict(x0=1117, x1=1191, y0=203, y1=437, first=212.3, step=15.43,
                  l0=1123, l1=1144, tx=1147)),
]
PLOT_TOP, PLOT_BOTTOM = 34, 438

fig = go.Figure()
shapes, annotations = [], []
layout_axes = {}

for k, p in enumerate(panels):
    xa = "x" if k == 0 else f"x{k + 1}"
    ya = "y" if k == 0 else f"y{k + 1}"
    for name, vals in p["series"]:
        fig.add_trace(go.Scatter(
            x=freq_mhz, y=vals, mode="lines", name=name, xaxis=xa, yaxis=ya,
            line=dict(color=input_colors[name], width=1.4), showlegend=False,
        ))

    axis_common = dict(
        showline=True, linecolor="black", linewidth=1.5, mirror="ticks",
        ticks="inside", ticklen=4, tickcolor="black", tickwidth=1,
        showgrid=True, gridcolor="#8c8c8c", gridwidth=1, zeroline=False,
        tickfont=dict(family=FONT, size=11.5, color="black"),
    )
    layout_axes["xaxis" if k == 0 else f"xaxis{k + 1}"] = dict(
        axis_common, domain=[fx(p["x0"]), fx(p["x1"])], range=[50, 375],
        tickvals=x_ticks, anchor=ya, ticklabelstandoff=-2,
    )
    layout_axes["yaxis" if k == 0 else f"yaxis{k + 1}"] = dict(
        axis_common, domain=[fy(PLOT_BOTTOM), fy(PLOT_TOP)], range=[47, 50.5],
        tickvals=y_ticks, ticktext=y_tick_text, anchor=xa,
    )

    cx = (p["x0"] + p["x1"]) / 2
    annotations.append(dict(text=p["title"], x=fx(cx - 3), y=fy(17), xref="paper", yref="paper",
                            showarrow=False, xanchor="center", yanchor="middle",
                            font=dict(family=FONT, size=18, color="black")))
    annotations.append(dict(text="Frequency [MHz]", x=fx(cx), y=fy(475), xref="paper", yref="paper",
                            showarrow=False, xanchor="center", yanchor="bottom", borderpad=0,
                            font=dict(family=FONT, size=17, color="black")))
    annotations.append(dict(text="Power [dBFS]", x=fx(p["ylab_x"]), y=fy(217), xref="paper",
                            yref="paper", showarrow=False, textangle=-90,
                            xanchor="center", yanchor="middle",
                            font=dict(family=FONT, size=15, color="black")))

    # Boxed legend in the lower-right corner of each panel
    lg = p["leg"]
    shapes.append(dict(type="rect", xref="paper", yref="paper",
                       x0=fx(lg["x0"]), x1=fx(lg["x1"]), y0=fy(lg["y1"]), y1=fy(lg["y0"]),
                       fillcolor="white", line=dict(color="black", width=1.5), layer="above"))
    for i, (name, _) in enumerate(p["series"]):
        yc = lg["first"] + i * lg["step"]
        shapes.append(dict(type="line", xref="paper", yref="paper",
                           x0=fx(lg["l0"]), x1=fx(lg["l1"]), y0=fy(yc), y1=fy(yc),
                           line=dict(color=input_colors[name], width=1.5), layer="above"))
        annotations.append(dict(text=name, x=fx(lg["tx"]), y=fy(yc), xref="paper", yref="paper",
                                showarrow=False, xanchor="left", yanchor="middle",
                                font=dict(family=FONT, size=11.5, color="black")))

fig.update_layout(
    width=W, height=H, margin=dict(l=0, r=0, t=0, b=0),
    paper_bgcolor="white", plot_bgcolor="white",
    shapes=shapes, annotations=annotations, showlegend=False,
    **layout_axes,
)

fig.write_html("out.html")
